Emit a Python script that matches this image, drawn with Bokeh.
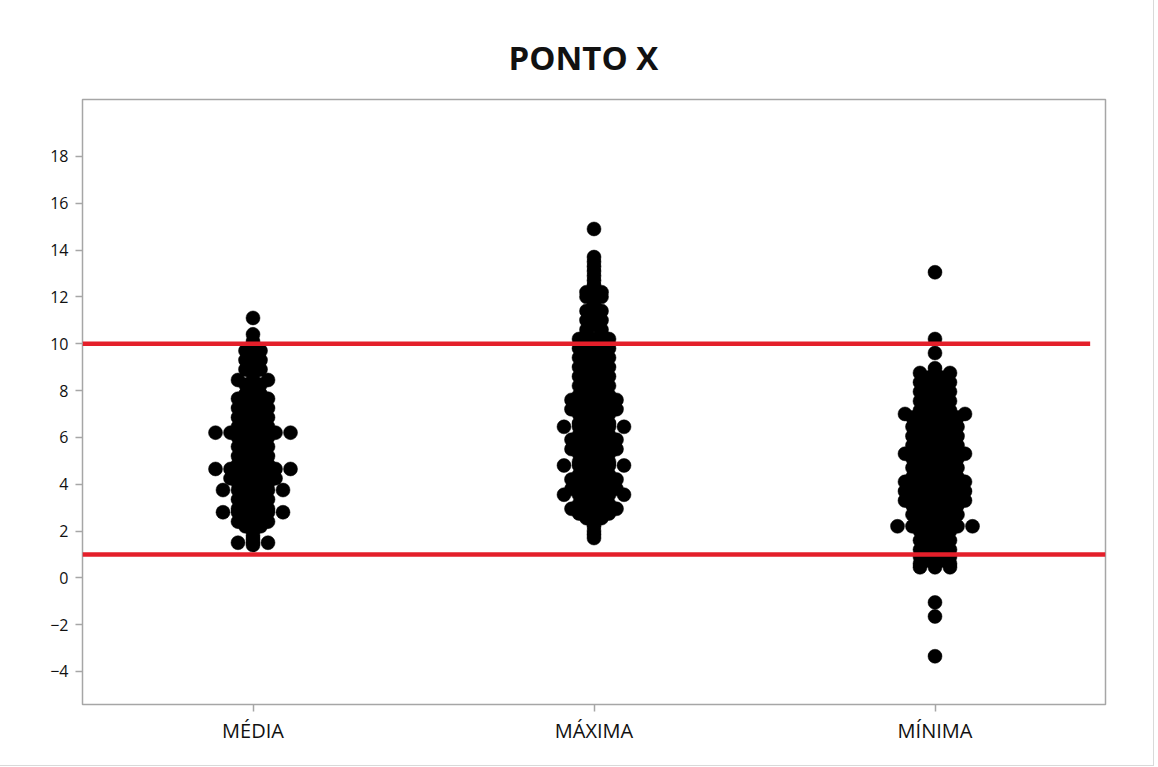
from bokeh.plotting import figure
from bokeh.models import FixedTicker, Range1d
from bokeh.embed import file_html
from bokeh.resources import INLINE

# ---------------- data ----------------
categories = ["MÉDIA", "MÁXIMA", "MÍNIMA"]
title_text = "PONTO X"
y_ticks = [-4, -2, 0, 2, 4, 6, 8, 10, 12, 14, 16, 18]
limit_upper = 10
limit_lower = 1

media_values = [11.1, 10.4, 10.1, 9.9, 9.7, 9.5, 9.3, 9.1, 8.9, 8.7, 8.45, 8.25, 8.05,
                7.85, 7.65, 7.45, 7.25, 7.05, 6.85, 6.65, 6.45, 6.2, 6.0, 5.8, 5.6,
                5.4, 5.2, 5.0, 4.85, 4.65, 4.45, 4.25, 4.05, 3.9, 3.75, 3.55, 3.35,
                3.15, 2.95, 2.8, 2.6, 2.4, 2.2, 2.0, 1.8, 1.65, 1.5, 1.4]
media_counts = [1, 1, 1, 1, 2, 1, 2, 1, 2, 1, 3, 2, 1,
                2, 3, 2, 3, 2, 3, 2, 3, 6, 3, 2, 3,
                2, 3, 2, 3, 6, 3, 4, 3, 2, 5, 2, 3,
                2, 3, 5, 2, 3, 2, 1, 1, 1, 3, 1]

maxima_values = [14.9, 13.7, 13.5, 13.3, 13.1, 12.9, 12.7, 12.5, 12.35, 12.2, 12.0, 11.8,
                 11.6, 11.4, 11.2, 11.0, 10.8, 10.6, 10.4, 10.2, 10.0, 9.8, 9.6, 9.4,
                 9.2, 9.0, 8.8, 8.6, 8.4, 8.2, 8.0, 7.8, 7.6, 7.4, 7.2, 7.0, 6.8, 6.6,
                 6.45, 6.3, 6.1, 5.9, 5.7, 5.5, 5.3, 5.1, 4.95, 4.8, 4.6, 4.4, 4.2, 4.0,
                 3.8, 3.55, 3.35, 3.15, 2.95, 2.75, 2.55, 2.4, 2.2, 2.0, 1.85, 1.7]
maxima_counts = [1, 1, 1, 1, 1, 1, 1, 1, 1, 2, 2, 1,
                 1, 2, 1, 2, 1, 2, 2, 3, 2, 3, 2, 3,
                 2, 3, 2, 3, 2, 3, 2, 3, 4, 3, 4, 3, 2, 3,
                 5, 2, 3, 4, 3, 4, 3, 2, 3, 5, 2, 3, 4, 3,
                 4, 5, 2, 3, 4, 3, 2, 1, 1, 1, 1, 1]

minima_values = [13.05, 10.2, 9.6, 8.95, 8.75, 8.55, 8.35, 8.15, 7.95, 7.75, 7.55, 7.35,
                 7.15, 7.0, 6.85, 6.65, 6.45, 6.25, 6.05, 5.85, 5.65, 5.45, 5.3, 5.1,
                 4.9, 4.7, 4.5, 4.3, 4.1, 3.9, 3.7, 3.5, 3.3, 3.1, 2.9, 2.7, 2.5, 2.35,
                 2.2, 2.0, 1.8, 1.6, 1.4, 1.2, 1.05, 0.9, 0.75, 0.6, 0.45, -1.05, -1.65,
                 -3.35]
minima_counts = [1, 1, 1, 1, 3, 2, 3, 2, 3, 2, 3, 2,
                 3, 5, 4, 3, 4, 3, 4, 3, 4, 3, 5, 4,
                 3, 4, 3, 4, 5, 4, 5, 4, 5, 4, 3, 4, 3, 2,
                 6, 3, 2, 3, 2, 3, 2, 3, 2, 3, 3, 1, 1,
                 1]

groups = [(media_values, media_counts), (maxima_values, maxima_counts), (minima_values, minima_counts)]

# ---------------- layout ----------------
X0, X1 = 0.5, 3.5
Y0, Y1 = -5.41, 20.43
FRAME_W = 1023
DOT_PX = 14
STEP = 15 * (X1 - X0) / FRAME_W

p = figure(width=1153, height=765, x_range=Range1d(X0, X1), y_range=Range1d(Y0, Y1),
           output_backend="svg", toolbar_location=None,
           min_border_left=82, min_border_right=48, min_border_top=99, min_border_bottom=61)

xs, ys = [], []
for i, (vals, cnts) in enumerate(groups):
    center = i + 1
    for v, n in zip(vals, cnts):
        for k in range(n):
            xs.append(center + (k - (n - 1) / 2) * STEP)
            ys.append(v)

p.scatter(xs, ys, size=DOT_PX, fill_color="black", line_color="black", line_width=0.5)

red = "#e41f2a"
p.segment(x0=[X0, X0], y0=[limit_upper, limit_lower],
          x1=[3.455, X1], y1=[limit_upper, limit_lower],
          line_color=red, line_width=4.5)

# title
p.title.text = title_text
p.title.align = "left"
p.title.offset = 426
p.title.text_font = "Open Sans"
p.title.text_font_style = "bold"
p.title.text_font_size = "33px"
p.title.text_color = "#111111"
p.title.standoff = 40

# frame / grid
p.xgrid.visible = False
p.ygrid.visible = False
p.outline_line_color = "#a6a6a6"
p.outline_line_width = 1.5
p.background_fill_color = "white"
p.border_fill_color = "white"

# axes
for ax in (p.xaxis[0], p.yaxis[0]):
    ax.axis_line_color = None
    ax.major_tick_line_color = "#a6a6a6"
    ax.major_tick_line_width = 1.5
    ax.major_tick_out = 7
    ax.major_tick_in = 0
    ax.minor_tick_line_color = None
    ax.major_label_text_font = "Open Sans"
    ax.major_label_text_color = "#111111"

p.yaxis.ticker = FixedTicker(ticks=y_ticks)
p.yaxis.major_label_text_font_size = "16px"
p.yaxis.major_label_standoff = 7

p.xaxis.ticker = FixedTicker(ticks=[1, 2, 3])
p.xaxis.major_label_overrides = {i + 1: c for i, c in enumerate(categories)}
p.xaxis.major_label_text_font_size = "20px"
p.xaxis.major_label_standoff = 5

p.styles = {"outline": "1px solid #d9d9d9"}

open("out.html", "w").write(file_html(p, INLINE))
